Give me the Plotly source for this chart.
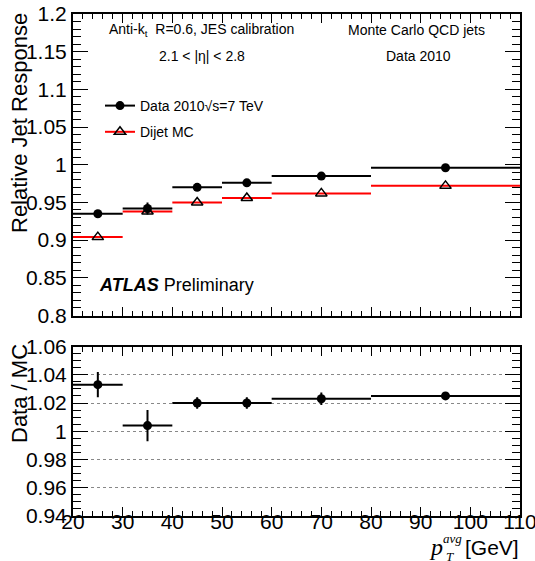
import plotly.graph_objects as go

# ---- data ----
bin_lo = [20, 30, 40, 50, 60, 80]
bin_hi = [30, 40, 50, 60, 80, 110]
data_resp = [0.935, 0.942, 0.970, 0.976, 0.985, 0.996]
data_err = [0.003, 0.008, 0.002, 0.002, 0.002, 0.002]
mc_resp = [0.904, 0.938, 0.950, 0.956, 0.962, 0.972]
ratio = [1.033, 1.004, 1.020, 1.020, 1.023, 1.025]
ratio_err = [0.009, 0.011, 0.004, 0.004, 0.0045, 0.002]

top_ticks = [0.8, 0.85, 0.9, 0.95, 1.0, 1.05, 1.1, 1.15, 1.2]
top_ticktext = ["0.8", "0.85", "0.9", "0.95", "1", "1.05", "1.1", "1.15", "1.2"]
bot_ticks = [0.94, 0.96, 0.98, 1.0, 1.02, 1.04, 1.06]
bot_ticktext = ["0.94", "0.96", "0.98", "1", "1.02", "1.04", "1.06"]
x_ticks = [20, 30, 40, 50, 60, 70, 80, 90, 100, 110]

centers = [(a + b) / 2 for a, b in zip(bin_lo, bin_hi)]
halfw = [(b - a) / 2 for a, b in zip(bin_lo, bin_hi)]

FONT = "Liberation Sans, Arial, Helvetica, sans-serif"
SERIF = "Liberation Serif, Times New Roman, serif"

fig = go.Figure()

# MC (red horizontal bin lines, open triangles)
fig.add_trace(go.Scatter(
    x=centers, y=mc_resp, mode="markers", xaxis="x", yaxis="y",
    marker=dict(symbol="triangle-up-open", size=10, color="black", line=dict(width=1.5, color="black")),
    error_x=dict(type="data", array=halfw, color="red", thickness=2, width=0),
    showlegend=False, hoverinfo="skip"))
# Data
fig.add_trace(go.Scatter(
    x=centers, y=data_resp, mode="markers", xaxis="x", yaxis="y",
    marker=dict(symbol="circle", size=9, color="black"),
    error_x=dict(type="data", array=halfw, color="black", thickness=2, width=0),
    error_y=dict(type="data", array=data_err, color="black", thickness=2, width=0),
    showlegend=False, hoverinfo="skip"))
# Ratio
fig.add_trace(go.Scatter(
    x=centers, y=ratio, mode="markers", xaxis="x2", yaxis="y2",
    marker=dict(symbol="circle", size=9, color="black"),
    error_x=dict(type="data", array=halfw, color="black", thickness=2, width=0),
    error_y=dict(type="data", array=ratio_err, color="black", thickness=2, width=0),
    showlegend=False, hoverinfo="skip"))

# legend entries
fig.add_trace(go.Scatter(
    x=[None], y=[None], mode="lines+markers", xaxis="x", yaxis="y",
    name="Data 2010√s=7 TeV", legendgroup="a", line=dict(color="black", width=2),
    marker=dict(symbol="circle", size=9, color="black")))
fig.add_trace(go.Scatter(
    x=[None], y=[None], mode="lines+markers", xaxis="x", yaxis="y",
    name="Dijet MC", legendgroup="b", line=dict(color="red", width=2),
    marker=dict(symbol="triangle-up-open", size=10, color="black", line=dict(width=1.5, color="black"))))

L, R, T, B = 73, 15, 14, 45
W, H = 535, 561
PH = H - T - B
PW = W - L - R

def px(xp):
    return (xp - L) / PW

def py(yp):
    return (H - B - yp) / PH

common_x = dict(
    range=[20, 110], tickvals=x_ticks, ticks="inside", ticklen=9, tickwidth=1,
    tickcolor="black", showline=True, linecolor="black", linewidth=2, mirror="ticks",
    showgrid=False, zeroline=False, automargin=False,
    minor=dict(dtick=2, ticks="inside", ticklen=5, tickcolor="black", tickwidth=1, showgrid=False),
)

fig.update_layout(
    width=W, height=H,
    margin=dict(l=L, r=R, t=T, b=B, autoexpand=False),
    paper_bgcolor="white", plot_bgcolor="white",
    font=dict(family=FONT, size=21, color="black"),
    xaxis=dict(**common_x, anchor="y", showticklabels=False, matches="x2"),
    yaxis=dict(domain=[py(315.5), 1.0], range=[0.8, 1.2], tickvals=top_ticks, ticktext=top_ticktext,
               ticks="inside", ticklen=15, tickwidth=1, tickcolor="black",
               showline=True, linecolor="black", linewidth=2, mirror="ticks",
               showgrid=False, zeroline=False, automargin=False,
               minor=dict(dtick=0.01, ticks="inside", ticklen=8, tickcolor="black", tickwidth=1, showgrid=False)),
    xaxis2=dict(**common_x, anchor="y2", tickfont=dict(size=21), ticklabelstandoff=-14,
                ticklabeloverflow="allow"),
    yaxis2=dict(domain=[0.0, py(346.5)], range=[0.94, 1.06], tickvals=bot_ticks, ticktext=bot_ticktext,
                ticks="inside", ticklen=15, tickwidth=1, tickcolor="black",
                showline=True, linecolor="black", linewidth=2, mirror="ticks",
                showgrid=True, gridcolor="#888888", griddash="dot", gridwidth=1,
                zeroline=False, automargin=False,
                minor=dict(dtick=0.005, ticks="inside", ticklen=8, tickcolor="black", tickwidth=1, showgrid=False)),
    legend=dict(x=px(100), y=py(90), xanchor="left", yanchor="top", bgcolor="rgba(0,0,0,0)",
                traceorder="grouped", font=dict(family=FONT, size=14), tracegroupgap=5, itemwidth=30),
)

ann = []
def add(text, x, y, size, family=FONT, xanchor="center", angle=0):
    ann.append(dict(text=text, x=px(x), y=py(y), xref="paper", yref="paper", showarrow=False,
                    xanchor=xanchor, yanchor="middle", textangle=angle,
                    font=dict(family=family, size=size, color="black")))

add("Anti-k<sub>t</sub>  R=0.6, JES calibration", 201, 30, 14)
add("2.1 < |η| < 2.8", 202, 56, 14)
add("Monte Carlo QCD jets", 416, 30, 14)
add("Data 2010", 418, 56, 14)
add("<b><i>ATLAS</i></b> Preliminary", 97, 285, 18, xanchor="left")
add("Relative Jet Response", 19, 123, 22, angle=-90)
add("Data / MC", 19, 394, 22, angle=-90)
add("<i>p</i>", 436, 547, 24, family=SERIF)
add("<i>avg</i>", 452, 538, 13, family=SERIF)
add("<i>T</i>", 450, 556, 13, family=SERIF)
add("[GeV]", 521, 547, 21, xanchor="right")
fig.update_layout(annotations=ann)

fig.write_html("out.html")
